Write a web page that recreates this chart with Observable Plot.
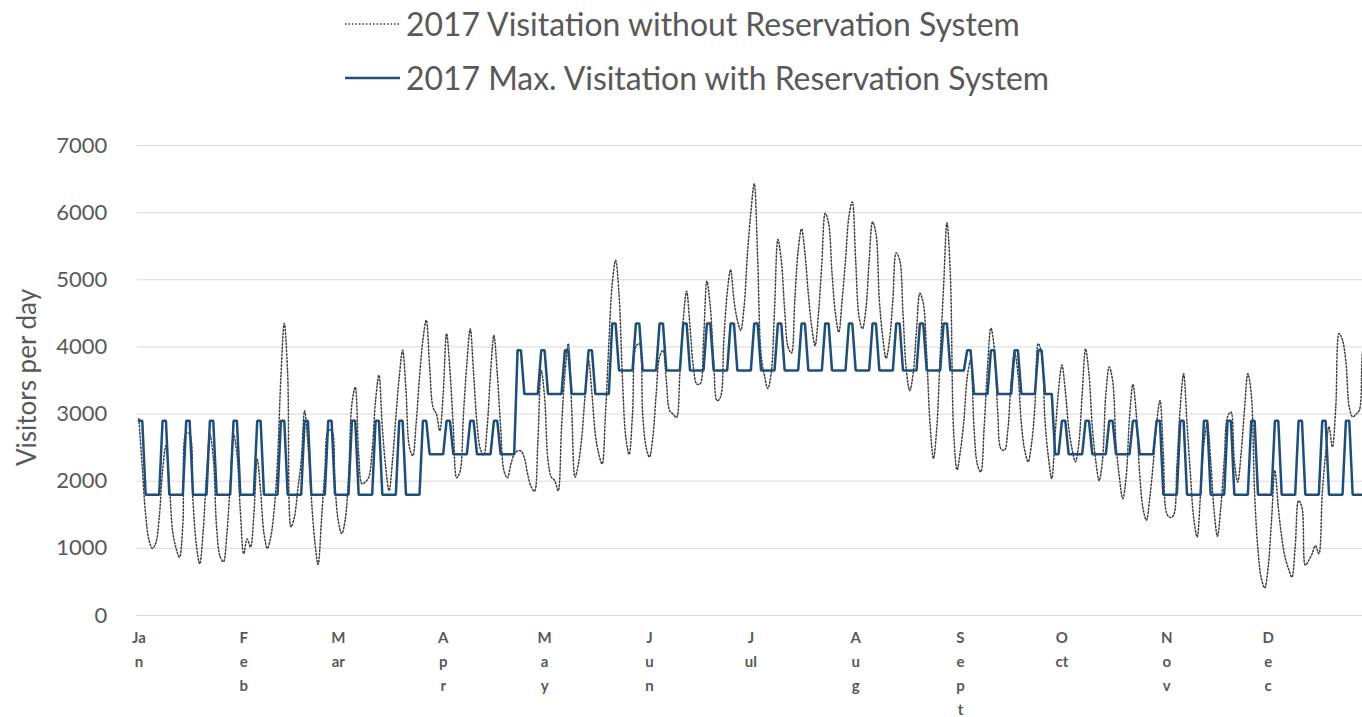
<!DOCTYPE html>
<html><head><meta charset="utf-8">
<script src="https://cdn.jsdelivr.net/npm/d3@7"></script>
<script src="https://cdn.jsdelivr.net/npm/@observablehq/plot@0.6"></script>
<style>
html,body{margin:0;padding:0;background:#fff;overflow:hidden;}
#legend{position:relative;height:110px;width:1362px;font-family:Lato,"Open Sans",sans-serif;color:#595959;}
.row{position:absolute;left:345px;height:40px;display:flex;align-items:center;white-space:nowrap;}
.row svg{margin-right:6px;display:block}
.row span{font-size:28px;line-height:40px}
#chart svg{display:block}
</style></head>
<body>
<div id="legend"></div>
<div id="chart"></div>
<script>
// ---- data ----
const seriesNames = ["2017 Visitation without Reservation System", "2017 Max. Visitation with Reservation System"];
const monthLabels = ["Ja\nn","F\ne\nb","M\nar","A\np\nr","M\na\ny","J\nu\nn","J\nul","A\nu\ng","S\ne\np\nt","O\nct","N\no\nv","D\ne\nc"];
const monthStartDay = [0,31,59,90,120,151,181,212,243,273,304,334];
const yTicks = [0,1000,2000,3000,4000,5000,6000,7000];

// daily visitors without reservation system
const visitsWithout = [
2930,2200,1500,1120,1000,1080,1450,
2150,2530,1950,1250,1000,870,1350,
2720,2700,1700,1050,770,1250,2100,
2700,2350,1300,880,800,1200,1950,
2700,2400,1560,920,1140,1020,1500,
2330,1850,1220,1000,1170,1570,2310,
3550,4350,3600,1320,1470,1880,2300,
3050,2550,1760,1120,760,1420,2160,
2750,2760,1950,1400,1220,1420,2060,
3150,3400,2410,1960,1990,2060,2460,
3200,3580,2800,2210,1860,2300,2950,
3550,3950,3350,2510,2380,2860,3550,
4100,4400,3700,3100,3000,2750,3300,
4200,3650,2800,2050,2150,3000,3750,
4270,3600,2860,2480,2390,2800,3600,
4170,3600,2800,2150,2050,2250,2400,
2450,2450,2350,2100,1920,1850,2580,
3650,3250,2310,2060,2010,1860,2800,
3600,4050,3100,2060,2260,2660,3300,
3800,3300,2700,2410,2260,3000,4050,
4940,5290,4790,3550,2660,2400,3000,
4000,4050,3000,2510,2360,2650,3300,
3850,3950,3500,3050,3000,2950,3600,
4400,4830,4300,3700,3450,3450,4100,
4980,4600,3800,3200,3250,4100,4800,
5150,4700,4400,4250,4600,5390,6000,
6430,5340,3900,3580,3380,3600,4550,
5600,5290,4550,4000,3910,4700,5440,
5760,5390,4790,4300,4020,4500,5240,
5990,5840,5100,4500,4220,4700,5290,
5940,6160,5290,4450,4270,4550,5290,
5860,5690,4700,4150,3830,4100,4700,
5400,5300,4500,3650,3350,3600,4250,
4800,4650,3900,2850,2340,2800,3900,
4890,5850,5090,2710,2170,2460,2900,
3550,3800,2800,2250,2140,2800,3700,
4280,3980,3050,2480,2460,2760,3500,
3920,3600,2860,2460,2290,2550,3100,
4050,3900,2900,2360,2040,2700,3350,
3730,3350,2800,2480,2290,2560,3300,
3970,3600,2800,2310,2010,2310,3300,
3700,3500,2560,2060,1740,2060,2950,
3440,3000,2110,1590,1420,1760,2260,
2860,3200,2410,1520,1460,1490,2210,
3100,3600,2860,2110,1440,1170,1810,
2560,2860,2310,1570,1180,1610,2310,
2960,3030,2300,1990,2410,3060,3600,
3300,1810,970,550,410,720,1420,
2160,1610,1170,870,700,570,1020,
1710,1610,750,820,920,1040,920,
1810,2410,2810,2510,3100,4200,4100,
3780,3100,2960,3000,3060,3950,4100,
4000
];

// daily maximum visitors with reservation system
const visitsWith = [
2900,2900,1800,1800,1800,1800,1800,
2900,2900,1800,1800,1800,1800,1800,
2900,2900,1800,1800,1800,1800,1800,
2900,2900,1800,1800,1800,1800,1800,
2900,2900,1800,1800,1800,1800,1800,
2900,2900,1800,1800,1800,1800,1800,
2900,2900,1800,1800,1800,1800,1800,
2900,2900,1800,1800,1800,1800,1800,
2900,2900,1800,1800,1800,1800,1800,
2900,2900,1800,1800,1800,1800,1800,
2900,2900,1800,1800,1800,1800,1800,
2900,2900,1800,1800,1800,1800,1800,
2900,2900,2400,2400,2400,2400,2400,
2900,2900,2400,2400,2400,2400,2400,
2900,2900,2400,2400,2400,2400,2400,
2900,2900,2400,2400,2400,2400,2400,
3950,3950,3300,3300,3300,3300,3300,
3950,3950,3300,3300,3300,3300,3300,
3950,3950,3300,3300,3300,3300,3300,
3950,3950,3300,3300,3300,3300,3300,
4350,4350,3650,3650,3650,3650,3650,
4350,4350,3650,3650,3650,3650,3650,
4350,4350,3650,3650,3650,3650,3650,
4350,4350,3650,3650,3650,3650,3650,
4350,4350,3650,3650,3650,3650,3650,
4350,4350,3650,3650,3650,3650,3650,
4350,4350,3650,3650,3650,3650,3650,
4350,4350,3650,3650,3650,3650,3650,
4350,4350,3650,3650,3650,3650,3650,
4350,4350,3650,3650,3650,3650,3650,
4350,4350,3650,3650,3650,3650,3650,
4350,4350,3650,3650,3650,3650,3650,
4350,4350,3650,3650,3650,3650,3650,
4350,4350,3650,3650,3650,3650,3650,
4350,4350,3650,3650,3650,3650,3650,
3950,3950,3300,3300,3300,3300,3300,
3950,3950,3300,3300,3300,3300,3300,
3950,3950,3300,3300,3300,3300,3300,
3950,3950,3300,3300,3300,2400,2400,
2900,2900,2400,2400,2400,2400,2400,
2900,2900,2400,2400,2400,2400,2400,
2900,2900,2400,2400,2400,2400,2400,
2900,2900,2400,2400,2400,2400,2400,
2900,2900,1800,1800,1800,1800,1800,
2900,2900,1800,1800,1800,1800,1800,
2900,2900,1800,1800,1800,1800,1800,
2900,2900,1800,1800,1800,1800,1800,
2900,2900,1800,1800,1800,1800,1800,
2900,2900,1800,1800,1800,1800,1800,
2900,2900,1800,1800,1800,1800,1800,
2900,2900,1800,1800,1800,1800,1800,
2900,2900,1800,1800,1800,1800,1800,
2900
];

// ---- styles ----
const GRAY_TEXT = "#595959";
const DOT_COLOR = "#404040";
const BLUE = "#1f4e79";

// ---- legend ----
const legend = document.getElementById("legend");
const legendRows = [
  {top: 4, stroke: DOT_COLOR, width: 1.5, dash: "1.5 2"},
  {top: 58, stroke: BLUE, width: 2.5, dash: null}
];
const spans = [];
legendRows.forEach((r, i) => {
  const row = document.createElement("div");
  row.className = "row";
  row.style.top = r.top + "px";
  row.innerHTML = `<svg width="55" height="10"><line x1="0" x2="55" y1="5" y2="5" stroke="${r.stroke}" stroke-width="${r.width}" ${r.dash ? `stroke-dasharray="${r.dash}"` : ""}/></svg>`;
  const s = document.createElement("span");
  s.textContent = seriesNames[i];
  row.appendChild(s);
  legend.appendChild(row);
  spans.push(s);
});
// fit legend font so the first label spans ~614px as in the reference
const w0 = spans[0].getBoundingClientRect().width;
const fs = 28 * 614 / w0;
spans.forEach(s => s.style.fontSize = fs.toFixed(2) + "px");

// ---- chart ----
const rowsWithout = visitsWithout.map((v, i) => ({day: i, value: v}));
const rowsWith = visitsWith.map((v, i) => ({day: i, value: v}));

const W = 1362, H = 607;
const plotLeft = 136.7, dayWidth = 3.381;
const xMax = (W - plotLeft) / dayWidth - 0.5;

const chart = Plot.plot({
  width: W, height: H,
  marginLeft: plotLeft, marginRight: 0, marginTop: 35, marginBottom: 102,
  style: {fontFamily: "Lato, 'Open Sans', sans-serif", color: GRAY_TEXT, background: "white"},
  x: {domain: [-0.5, xMax], axis: null},
  y: {domain: [0, 7000], axis: null},
  marks: [
    Plot.gridY(yTicks, {stroke: "#d9d9d9", strokeOpacity: 1, strokeWidth: 1}),
    Plot.axisY(yTicks, {tickSize: 0, tickPadding: 30, fontSize: 22, label: null, fill: GRAY_TEXT, tickFormat: d => String(d)}),
    Plot.text(monthStartDay, {x: d => d, text: (d, i) => monthLabels[i], frameAnchor: "bottom", lineAnchor: "top", dy: 10, lineHeight: 1.6, fontSize: 15, fontWeight: "bold", fill: GRAY_TEXT}),
    Plot.text(["Visitors per day"], {frameAnchor: "left", textAnchor: "middle", dx: -110, dy: -3, rotate: -90, fontSize: 26, fill: GRAY_TEXT}),
    Plot.lineY(rowsWithout, {x: "day", y: "value", curve: "catmull-rom", stroke: DOT_COLOR, strokeWidth: 1.5, strokeDasharray: "1.5 2", clip: true}),
    Plot.lineY(rowsWith, {x: "day", y: "value", stroke: BLUE, strokeWidth: 2.5, strokeLinejoin: "miter", clip: true})
  ]
});
document.getElementById("chart").appendChild(chart);
</script>
</body></html>
